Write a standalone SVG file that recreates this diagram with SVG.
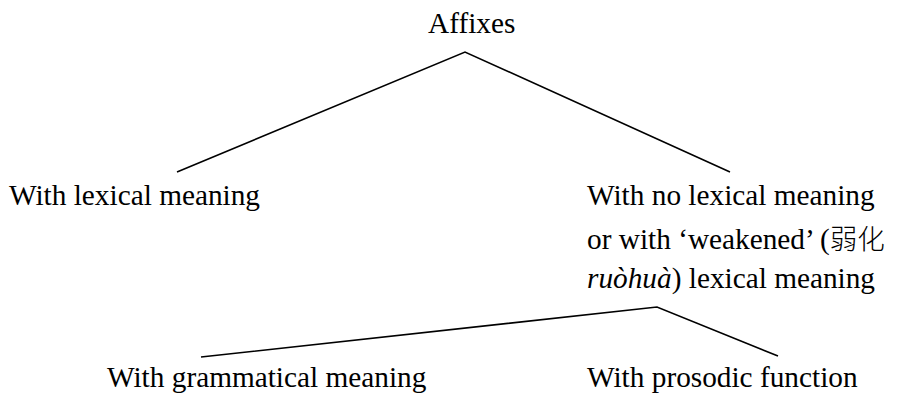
<svg xmlns="http://www.w3.org/2000/svg" width="899" height="393" viewBox="0 0 899 393">
<style>
text{font-family:"Liberation Serif","Times New Roman",serif;font-size:29.3px;fill:#000}
.cjk{font-family:"Noto Sans CJK SC","Noto Sans CJK TC",sans-serif;font-size:27.5px;font-weight:300}
.it{font-style:italic}
.edge{stroke:#000;stroke-width:1.6;fill:none}
</style>
<rect width="899" height="393" fill="#fff"/>
<g id="connectors">
<polyline class="edge" points="177,172 465,52 730,172"/>
<polyline class="edge" points="201,357 657,307 778,356"/>
</g>
<g id="affixes"><text x="428" y="33">Affixes</text></g>
<g id="lexical"><text x="9" y="205">With lexical meaning</text></g>
<g id="no-lexical">
<text x="587" y="205">With no lexical meaning</text>
<text x="587" y="249">or with ‘weakened’ (<tspan class="cjk">弱化</tspan></text>
<text x="587" y="288"><tspan class="it">ruòhuà</tspan>) lexical meaning</text>
</g>
<g id="grammatical"><text x="107" y="387">With grammatical meaning</text></g>
<g id="prosodic"><text x="587" y="387">With prosodic function</text></g>
</svg>
